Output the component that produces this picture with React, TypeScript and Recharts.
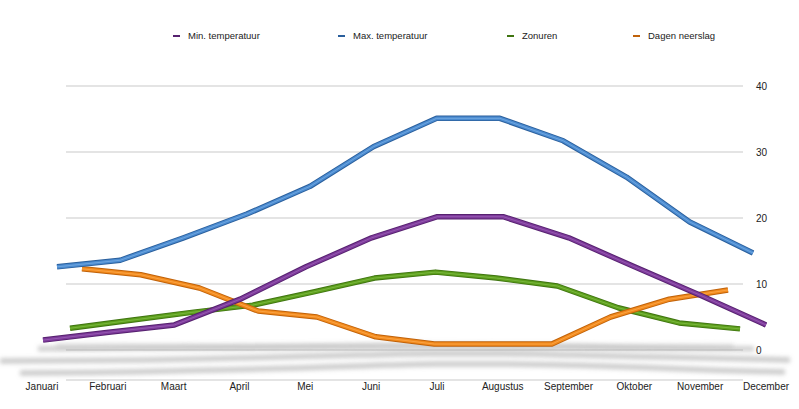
import React from "react";
import {
  LineChart,
  Line,
  XAxis,
  YAxis,
  CartesianGrid,
} from "recharts";

const months = [
  "Januari", "Februari", "Maart", "April", "Mei", "Juni",
  "Juli", "Augustus", "September", "Oktober", "November", "December",
];
const minTemp = [1.5, 2.7, 3.8, 7.7, 12.6, 17, 20.2, 20.2, 17, 12.6, 8.3, 3.8];
const maxTemp = [12.6, 13.6, 17, 20.6, 24.8, 30.8, 35.1, 35.1, 31.7, 26.2, 19.4, 14.7];
const zonuren = [3.3, 4.5, 5.7, 6.8, 8.8, 10.9, 11.8, 10.9, 9.7, 6.4, 4.1, 3.2];
const neerslag = [12.3, 11.4, 9.4, 5.9, 5, 2, 0.9, 0.9, 0.9, 5, 7.7, 9.1];
const yTicks = [0, 10, 20, 30, 40];

const data = months.map((m, i) => ({
  month: m,
  min: minTemp[i],
  max: maxTemp[i],
  zon: zonuren[i],
  regen: neerslag[i],
}));

const FONT = '"Liberation Sans", Arial, Helvetica, sans-serif';
const W = 799;
const H = 409;
const PLOT_TOP = 86;
const PLOT_BOTTOM = 380;

// hidden y axis that flattens a series into a "floor shadow"
function shadowDomain(base: number, k: number): [number, number] {
  const span = (PLOT_BOTTOM - PLOT_TOP) / k;
  const a = -(PLOT_BOTTOM - base) / k;
  return [a, a + span];
}

const series = [
  { key: "zon", name: "Zonuren", color: "#5c9e1c", dark: "#3f7410", light: "#8cc752", xId: "xZon", legendLeft: 507,
    shadow: shadowDomain(350, 0.4), shadowX: { left: -28, right: -11 }, shadowOpacity: 0.45 },
  { key: "regen", name: "Dagen neerslag", color: "#f28a1c", dark: "#c0620a", light: "#ffb25e", xId: "xRegen", legendLeft: 633,
    shadow: shadowDomain(348, 0.2), shadowX: { left: -10, right: 10 }, shadowOpacity: 0.22 },
  { key: "max", name: "Max. temperatuur", color: "#4b8bd0", dark: "#2a5f9c", light: "#86b8ea", xId: "xMax", legendLeft: 338,
    shadow: shadowDomain(378, 0.4), shadowX: { left: -46, right: -42 }, shadowOpacity: 0.5 },
  { key: "min", name: "Min. temperatuur", color: "#7d3a9a", dark: "#56216f", light: "#a56cc0", xId: "xMin", legendLeft: 173,
    shadow: shadowDomain(361.5, 0.38), shadowX: { left: -66, right: -47 }, shadowOpacity: 0.5 },
];

const legendOrder = ["min", "max", "zon", "regen"];

function ChartLegend() {
  return (
    <div style={{ position: "absolute", left: 0, top: 30, width: W, height: 14 }}>
      {legendOrder.map((k) => {
        const s = series.find((x) => x.key === k)!;
        return (
          <div
            key={k}
            style={{
              position: "absolute",
              left: s.legendLeft,
              top: 0,
              display: "flex",
              alignItems: "center",
              fontFamily: FONT,
              fontSize: 9.5,
              lineHeight: "12px",
              color: "#222",
              whiteSpace: "nowrap",
            }}
          >
            <span style={{ display: "inline-block", width: 7, height: 2.5, background: s.dark, marginRight: 8 }} />
            {s.name}
          </div>
        );
      })}
    </div>
  );
}

export default function App() {
  return (
    <div style={{ position: "absolute", left: 0, top: 0, width: W, height: H, background: "#fff" }}>
      <LineChart
        width={W}
        height={H}
        data={data}
        margin={{ top: PLOT_TOP, right: 0, left: 66, bottom: 0 }}
      >
        <defs>
          <filter id="floorBlur" x="-20%" y="-300%" width="140%" height="700%">
            <feGaussianBlur stdDeviation="2.3" />
          </filter>
        </defs>
        <CartesianGrid vertical={false} stroke="#c9c9c9" strokeWidth={1} xAxisId="labels" yAxisId="main" />
        <XAxis
          xAxisId="labels"
          dataKey="month"
          scale="point"
          padding={{ left: -24, right: -23 }}
          axisLine={false}
          tickLine={false}
          tickSize={0}
          tickMargin={3}
          height={29}
          interval={0}
          tick={{ fontSize: 10, fill: "#222", fontFamily: FONT }}
        />
        <XAxis xAxisId="xMin" dataKey="month" scale="point" hide padding={{ left: -23, right: -23 }} />
        <XAxis xAxisId="xMax" dataKey="month" scale="point" hide padding={{ left: -9, right: -10 }} />
        <XAxis xAxisId="xZon" dataKey="month" scale="point" hide padding={{ left: 4, right: 3 }} />
        <XAxis xAxisId="xRegen" dataKey="month" scale="point" hide padding={{ left: 16, right: 15 }} />
        {series.map((s) => (
          <XAxis key={"xs" + s.key} xAxisId={"xs" + s.key} dataKey="month" scale="point" hide padding={s.shadowX} />
        ))}
        <YAxis
          yAxisId="main"
          orientation="right"
          width={56}
          domain={[-30 / 6.6, 40]}
          ticks={yTicks}
          axisLine={false}
          tickLine={false}
          tickSize={0}
          tickMargin={13}
          tick={{ fontSize: 10, fill: "#222", fontFamily: FONT }}
        />
        {series.map((s) => (
          <YAxis
            key={"ys" + s.key}
            yAxisId={"ys" + s.key}
            hide
            type="number"
            domain={s.shadow}
            ticks={s.shadow}
          />
        ))}
        {series.map((s) => (
          <Line
            key={"shadow" + s.key}
            xAxisId={"xs" + s.key}
            yAxisId={"ys" + s.key}
            dataKey={s.key}
            type="monotone"
            stroke="#999999"
            strokeOpacity={s.shadowOpacity}
            strokeWidth={5.5}
            dot={false}
            activeDot={false}
            legendType="none"
            filter="url(#floorBlur)"
            isAnimationActive={false}
          />
        ))}
        {series.flatMap((s) => [
          <Line
            key={"dark" + s.key}
            xAxisId={s.xId}
            yAxisId="main"
            dataKey={s.key}
            type="linear"
            stroke={s.dark}
            strokeWidth={5.5}
            strokeLinejoin="round"
            dot={false}
            activeDot={false}
            legendType="none"
            isAnimationActive={false}
          />,
          <Line
            key={"main" + s.key}
            xAxisId={s.xId}
            yAxisId="main"
            dataKey={s.key}
            name={s.name}
            type="linear"
            stroke={s.color}
            strokeWidth={3.6}
            strokeLinejoin="round"
            dot={false}
            activeDot={false}
            isAnimationActive={false}
          />,
          <Line
            key={"light" + s.key}
            xAxisId={s.xId}
            yAxisId="main"
            dataKey={s.key}
            type="linear"
            stroke={s.light}
            strokeOpacity={0.6}
            strokeWidth={1}
            strokeLinejoin="round"
            dot={false}
            activeDot={false}
            legendType="none"
            isAnimationActive={false}
          />,
        ])}
      </LineChart>
      <ChartLegend />
    </div>
  );
}
